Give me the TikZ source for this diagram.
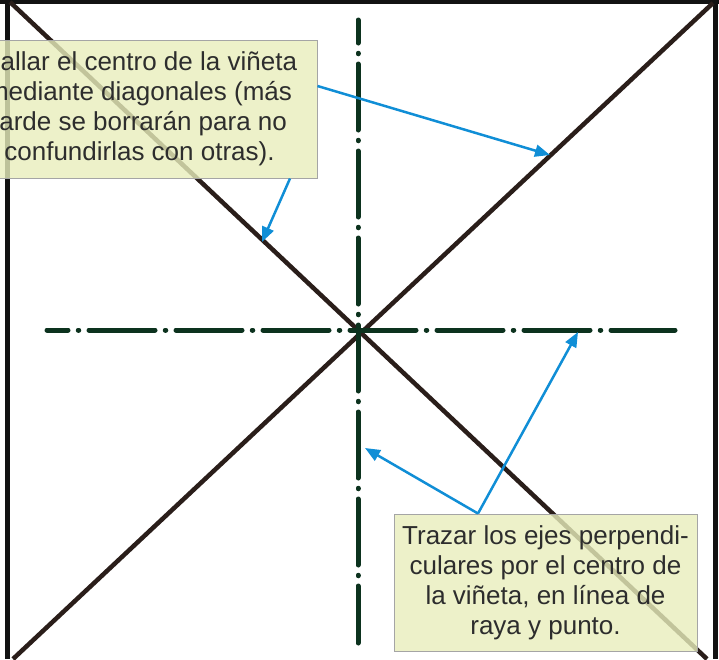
\documentclass[tikz,border=0pt]{standalone}
\usepackage{fontspec}
\setmainfont{Liberation Sans}
\usetikzlibrary{arrows.meta,calc}
\definecolor{framec}{RGB}{18,18,18}
\definecolor{diagc}{RGB}{42,30,26}
\definecolor{axisc}{RGB}{12,50,30}
\definecolor{boxfill}{RGB}{232,238,188}
\definecolor{boxdraw}{RGB}{165,165,165}
\definecolor{arrowc}{RGB}{16,142,214}
\definecolor{textc}{RGB}{45,45,45}
\begin{document}
\begin{tikzpicture}[x=1pt,y=-1pt,
  framel/.style={draw=framec,line width=5pt},
  diag/.style={draw=diagc,line width=4.5pt},
  axisl/.style={draw=axisc,line width=5pt,line cap=round,dash pattern=on 66pt off 10.25pt on 0.5pt off 10.25pt},
  note/.style={fill=boxfill,fill opacity=0.8,text opacity=1,draw=boxdraw,line width=1pt,text=textc,font=\fontsize{26}{30}\selectfont,align=center,inner sep=0pt},
  callout/.style={draw=arrowc,line width=2.5pt,-{Triangle[length=15pt,width=12pt]}}]
\useasboundingbox (0,0) rectangle (719,659);
\clip (0,0) rectangle (719,659);
% frame
\coordinate (ftl) at (7,1.5);
\coordinate (ftr) at (715,1.5);
\coordinate (fbl) at (7,659);
\coordinate (fbr) at (715,659);
\coordinate (fl) at (0,1.5);
\coordinate (fr) at (719,1.5);
\draw[framel] (fl) -- (fr);
\draw[framel] (ftl) -- (fbl);
\draw[framel] (ftr) -- (fbr);
% diagonals
\coordinate (d1a) at (10,2);
\coordinate (d1b) at (707,659);
\coordinate (d2a) at (713,3);
\coordinate (d2b) at (13,659);
\draw[diag] (d1a) -- (d1b);
\draw[diag] (d2a) -- (d2b);
% axes
\coordinate (hl) at (47,330);
\coordinate (hr) at (675,330);
\coordinate (vt) at (358,20);
\coordinate (vb) at (358,643);
\draw[axisl,dash phase=45pt] (hl) -- (hr);
\draw[axisl,dash phase=43pt] (vt) -- (vb);
% notes
\node[note,minimum width=355pt,minimum height=138pt] (b1) at (139.5,109)
  {Hallar el centro de la viñeta\\mediante diagonales (más\\tarde se borrarán para no\\confundirlas con otras).};
\node[note,minimum width=303pt,minimum height=137pt] (b2) at (545.5,582.5)
  {Trazar los ejes perpendi-\\culares por el centro de\\la viñeta, en línea de\\raya y punto.};
% targets
\coordinate (t1) at (550,155);
\coordinate (t2) at (262,242);
\coordinate (t3) at (578,332);
\coordinate (t4) at (365,448);
\draw[callout] ([yshift=23pt]b1.east) -- (t1);
\draw[callout] ([xshift=150.5pt]b1.south) -- (t2);
\draw[callout] ([xshift=-67.5pt]b2.north) -- (t3);
\draw[callout] ([xshift=-67.5pt]b2.north) -- (t4);
\end{tikzpicture}
\end{document}
